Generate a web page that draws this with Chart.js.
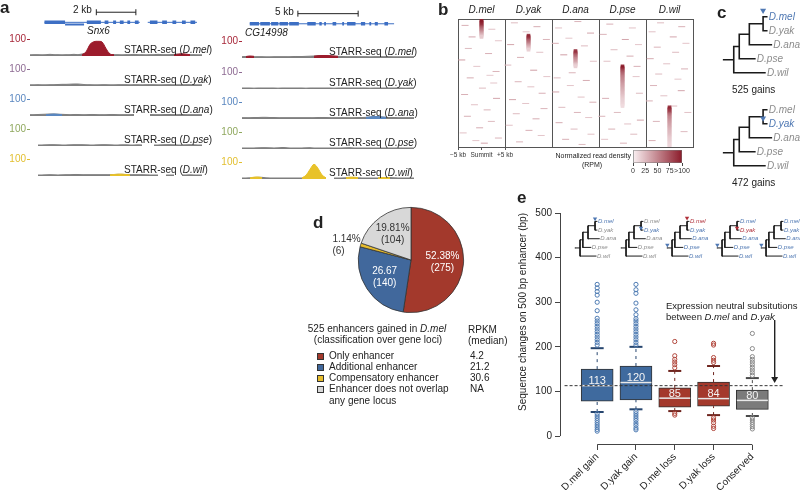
<!DOCTYPE html>
<html>
<head>
<meta charset="utf-8">
<script src="https://cdn.jsdelivr.net/npm/chart.js@4.4.1/dist/chart.umd.min.js"></script>
<style>
html, body { margin: 0; padding: 0; background: #fff; }
#fig { position: relative; width: 800px; height: 490px; overflow: hidden; background: #fff;
       font-family: 'Liberation Sans', Arial, sans-serif; color: #222; }
#fig canvas { position: absolute; }
.t { position: absolute; white-space: nowrap; line-height: 1; font-size: 10px; transform: translateY(-50%); }
.t.c { transform: translate(-50%, -50%); }
.t.r { transform: translate(-100%, -50%); }
.lt { position: absolute; font-weight: bold; font-size: 17px; line-height: 1; }
.sw { position: absolute; width: 7px; height: 7px; border: 1px solid #333; box-sizing: border-box; }
</style>
</head>
<body>
<div id="fig"></div>
<script>
// ---------- data ----------
const SPECIES = ['D.mel', 'D.yak', 'D.ana', 'D.pse', 'D.wil'];
const SPECIES_COLOR = ['#a8283a', '#8e6b93', '#5a87c0', '#8fa85e', '#e2bf2f'];
const PEAK_COLOR = ['#9c1c2c', '#8e6b93', '#5a87c0', '#8fa85e', '#e8c22a'];
const TRACK_GRAY = '#7f7f7f';
const GENE_BLUE = '#3d6fc4';

// panel a, locus 1 (Snx6), 44 bins
const SNX6_SIGNAL = [
  [7,8,8,7,8,10,8,8,7,8,8,10,8,12,14,16,16,16,14,12,10,8,8,7,8,8,10,8,8,7,8,8,10,8,8,8,10,11,11,10,8,8,7,7],
  [7,7,8,7,7,8,8,9,10,10,11,12,12,10,8,8,7,7,8,8,7,7,8,8,8,7,8,8,7,8,8,8,7,7,8,8,7,7,7,8,8,7,7,7],
  [8,8,9,10,11,12,12,11,10,9,8,9,9,8,8,9,9,8,8,8,9,9,8,8,8,8,9,null,null,null,9,8,8,8,9,9,8,8,9,8,8,8,8,8],
  [null,null,6,6,7,8,8,7,6,6,7,8,8,8,7,6,6,7,8,8,7,6,6,7,7,6,6,7,6,null,null,6,6,7,8,8,7,6,6,7,8,7,6,6],
  [null,null,6,6,7,8,7,6,7,8,8,9,9,8,8,8,8,8,8,8,8,9,10,10,9,8,8,8,8,7,6,6,6,null,6,6,6,null,6,6,7,6,6,6]
];
const SNX6_PEAKS = [
  [{ start: 13, values: [8,24,70,86,88,84,45,12,8] }, { start: 36, values: [8,11,13,11,8] }],
  [],
  [{ start: 4, values: [8,10,12,10,8] }],
  [],
  [{ start: 20, values: [7,9,11,11,9,7] }]
];
// panel a, locus 2 (CG14998), 44 bins
const CG14998_SIGNAL = [
  [8,9,9,8,8,8,7,7,8,8,8,8,8,9,9,9,10,11,12,13,13,12,12,11,10,9,8,8,8,8,8,8,7,8,8,8,8,8,7,7,7,7,7,7],
  [6,6,6,5,6,6,6,6,6,5,6,6,6,6,6,6,5,6,6,6,6,6,6,5,6,6,6,6,6,6,6,6,5,6,6,6,6,6,6,6,6,5,6,6],
  [8,8,8,9,9,10,10,9,9,8,8,8,8,8,8,8,8,8,8,9,9,9,8,8,8,8,8,8,8,9,9,10,12,14,14,12,10,9,9,8,8,8,8,8],
  [6,6,6,6,7,8,8,7,6,7,9,8,6,6,6,6,7,8,6,6,6,6,6,6,6,6,7,8,6,6,6,6,6,6,6,6,6,6,6,6,6,6,6,6],
  [6,6,7,9,10,10,7,6,6,6,6,6,6,6,6,6,7,9,9,9,7,6,null,6,6,6,7,9,9,7,6,6,6,6,6,7,9,9,7,6,6,6,6,6]
];
const CG14998_PEAKS = [
  [{ start: 1, values: [9,12,10] }, { start: 18, values: [11,14,15,15,14,12,10] }],
  [],
  [{ start: 31, values: [10,12,15,15,12,10] }],
  [],
  [{ start: 2, values: [7,11,12,8] }, { start: 15, values: [7,22,58,88,64,24,7] },
   { start: 26, values: [8,11,11,8] }, { start: 34, values: [7,9,9,7] }]
];
// gene models (kb from track start)
const SNX6_EXONS = [[0.48,1.52],[2.62,3.33],[3.52,3.71],[3.95,4.1],[4.29,4.48],[4.67,4.81],[5.05,5.24],
                    [5.81,6.19],[6.43,6.67],[6.95,7.14],[7.43,7.62],[7.86,8.1]];
const SNX6_INTRONS = [[0.48,5.3],[5.7,8.19]];
const SNX6_ALT = [[1.52,2.48]];
const CG14998_EXONS = [[0.23,1.0],[1.1,1.9],[2.0,2.6],[2.7,3.4],[3.5,4.3],[5.0,5.7],[6.0,6.2],[6.4,6.55],
                       [7.1,7.4],[7.9,8.05],[8.3,9.0],[9.45,9.8],[10.15,10.3],[10.6,10.85],[11.4,11.7]];
const CG14998_INTRONS = [[0.23,12.2]];
const SCALEBAR_KB = [[3.1, 5.1], [4.22, 9.22]];

// panel b heatmap
const HM_XTICKS = [0, 5, 10];
const HM_XTICK_LABELS = ['\u22125 kb', 'Summit', '+5 kb'];
const HM_STREAK_START = [1, 13, 25, 37, 69];
const HM_STREAK = [
  [95,100,100,95,90,80,70,62,55,48,40,32,25,18],
  [85,95,90,80,70,62,55,45,38,30,22,15],
  [80,90,85,75,65,58,50,45,40,35,28,20,15],
  [90,100,95,85,75,70,65,60,55,52,50,48,45,43,40,38,36,34,32,30,28,26,24,22,20,18,16,15,14,13,12,10],
  [85,95,90,85,80,70,60,55,50,48,45,42,40,38,36,34,32,30,28,26,25,24,22,20,18,17,16,15,14,13,12,12]
];
const HM_BG = [
  [[1.5,5,30],[7.2,8,22],[3,14,35],[8.6,17,20],[2.2,23,25],[6.5,27,30],[0.8,32,38],[4,37,20],[8.1,41,28],[2.6,46,32],
   [7.6,50,20],[5.2,54,25],[1.4,59,30],[8.2,62,35],[3.5,67,22],[6.2,71,28],[2,76,30],[7.1,80,25],[4.6,85,32],[1.1,89,22],
   [8.6,93,28],[5.6,97,35],[3.8,95,20],[6.8,44,18]],
  [[2,3,25],[6.8,6,32],[4.5,10,20],[8.8,16,28],[1.2,20,35],[7.4,26,22],[3.3,30,30],[0.6,36,25],[6.1,40,38],[8.9,45,20],
   [2.8,49,28],[5.5,53,22],[7.9,58,30],[1.6,63,35],[4.4,66,20],[8.3,70,28],[2.4,74,25],[6.6,78,32],[0.9,83,22],[5.1,87,30],
   [7.7,91,20],[3.1,96,28]],
  [[5.5,2,28],[1.4,7,22],[8.2,11,35],[3.6,15,20],[0.7,19,30],[6.9,21,25],[2.5,28,38],[8.8,33,22],[4.3,42,28],[1.1,46,25],
   [7.3,48,32],[3.9,52,20],[0.8,57,35],[6.2,61,22],[8.7,65,30],[2.1,69,25],[5.4,73,28],[7.8,77,20],[1.5,81,32],[4.7,86,25],
   [8.3,90,22],[2.9,94,30],[6.4,98,25]],
  [[2.3,4,30],[7.1,7,22],[0.9,12,28],[5.6,16,35],[8.4,20,20],[3.2,24,25],[6.6,29,32],[1.7,33,22],[8.1,37,30],[3.9,73,25],
   [0.6,76,28],[8.8,79,35],[6.1,82,22],[2.7,86,30],[7.4,90,25],[1.2,94,20],[5.2,97,28],[8.6,58,25],[1.4,62,30],[7.9,45,20]],
  [[3.1,3,25],[7.6,6,30],[1.3,10,22],[5.8,14,35],[8.5,19,20],[2.4,22,28],[6.3,26,25],[0.9,31,32],[4.4,35,22],[8.2,39,30],
   [2.7,43,25],[6.8,47,20],[1.6,52,28],[7.5,56,35],[3.8,60,22],[0.7,64,30],[5.9,68,25],[8.9,73,22],[2.2,80,28],[8.1,88,25],
   [1.3,95,30]]
];
const CB_TICKS = [0, 25, 50, 75, 100];
const CB_TICK_LABELS = ['0', '25', '50', '75', '>100'];

// panel c / e trees: ((((mel,yak),ana),pse),wil)
const TREE_TIP_X = [47, 47, 52, 34, 45];
const TREE_NODE_X = { stub: 0, root: 11, n3: 17, n2: 28, n1: 43 };
const C_GAINS = ['525 gains', '472 gains'];

// panel d pie
const PIE_CLASSES = ['Only enhancer', 'Additional enhancer', 'Compensatory enhancer', 'Enhancer does not overlap any gene locus'];
const PIE_COUNTS = [275, 140, 6, 104];
const PIE_PCT = ['52.38%', '26.67', '1.14%', '19.81%'];
const PIE_COLORS = ['#a3392c', '#41689c', '#e7bd2c', '#d8d8d8'];
const RPKM_MEDIAN = ['4.2', '21.2', '30.6', 'NA'];

// panel e box plot
const BOX_LABELS = ['D.mel gain', 'D.yak gain', 'D.mel loss', 'D.yak loss', 'Conserved'];
const BOX_GROUP = ['gain', 'gain', 'loss', 'loss', 'cons'];
const BOX_Q1 = [78, 81, 65, 67, 60];
const BOX_Q3 = [150, 157, 108, 121, 103];
const BOX_MEDIAN = [113, 120, 85, 84, 80];
const BOX_WHISK_LO = [54, 60, 56, 47, 45];
const BOX_WHISK_HI = [197, 200, 146, 157, 130];
const BOX_OUTLIERS = [
  [204,210,216,222,228,234,240,246,252,258,264,281,300,316,324,332,340, 50,45,40,35,30,25,20,15,11],
  [204,210,216,222,228,234,240,246,252,258,263,272,283,298,320,328,340, 55,50,45,40,35,29,24,18,14],
  [153,160,166,172,180,212, 51,47],
  [165,170,176,204,208, 41,36,30,22,17],
  [136,142,148,154,160,166,172,178,196,230, 41,36,31,26,21,16]
];
const Y_TICKS = [0, 100, 200, 300, 400, 500];
const NEUTRAL_LINE = 113;
const ARROW = { x: 4.575, from: 260, to: 128 };

const BOX_FILL = { gain: '#3f6a9e', loss: '#a4392c', cons: '#7b7b7b' };
const OUT_COLOR = { gain: '#4c7ab2', loss: '#b0453a', cons: '#8a8a8a' };
const CAP_COLOR = { gain: '#27466f', loss: '#6e241d', cons: '#4a4a4a' };
const GRAY = '#8c8c8c', BLUE = '#4f78b3', RED = '#b0303a';

// ---------- helpers ----------
Chart.defaults.font.family = "'Liberation Sans', Arial, sans-serif";
Chart.defaults.color = '#222';
Chart.defaults.animation = false;
Chart.defaults.responsive = false;
Chart.defaults.maintainAspectRatio = false;
Chart.defaults.events = [];
Chart.defaults.plugins.legend.display = false;
Chart.defaults.plugins.tooltip.enabled = false;

const fig = document.getElementById('fig');

function addCanvas(left, top, w, h) {
  const c = document.createElement('canvas');
  c.width = w; c.height = h;
  c.style.left = left + 'px'; c.style.top = top + 'px';
  c.style.width = w + 'px'; c.style.height = h + 'px';
  fig.appendChild(c);
  return c;
}

function addText(html, x, y, cls, style) {
  const d = document.createElement('div');
  d.className = 't' + (cls ? ' ' + cls : '');
  d.innerHTML = html;
  d.style.left = x + 'px'; d.style.top = y + 'px';
  if (style) Object.assign(d.style, style);
  fig.appendChild(d);
  return d;
}

function addLetter(ch, x, top) {
  const d = document.createElement('div');
  d.className = 'lt';
  d.textContent = ch;
  d.style.left = x + 'px'; d.style.top = top + 'px';
  fig.appendChild(d);
}

function segments(ranges, y) {
  return ranges.flatMap(([a, b]) => [{ x: a, y }, { x: b, y }, { x: null, y: null }]);
}

function heatColor(v) {
  const t = Math.max(0, Math.min(100, v || 0)) / 100;
  const r = Math.round(250 - 111 * t), g = Math.round(240 - 213 * t), b = Math.round(242 - 200 * t);
  return `rgb(${r},${g},${b})`;
}

// ---------- panel a ----------
const LOCI = [
  { left: 30, width: 172, axisW: 20, binKb: 4 / 21, baselines: [61, 91, 121, 151, 181],
    signal: SNX6_SIGNAL, peaks: SNX6_PEAKS, exons: SNX6_EXONS, introns: SNX6_INTRONS, alt: SNX6_ALT,
    geneY: 24, barY: 10, bar: SCALEBAR_KB[0], labelX: 124 },
  { left: 242, width: 172, axisW: 20, binKb: 4 / 12.8, baselines: [63, 94, 124, 154, 184],
    signal: CG14998_SIGNAL, peaks: CG14998_PEAKS, exons: CG14998_EXONS, introns: CG14998_INTRONS, alt: [],
    geneY: 26, barY: 12, bar: SCALEBAR_KB[1], labelX: 329 }
];

function drawTrack(locus, row) {
  const base = locus.baselines[row];
  const signal = locus.signal[row];
  const cv = addCanvas(locus.left - locus.axisW, base - 36, locus.axisW + locus.width, 38);
  const pts = (vals, start) => vals.map((v, k) => ({ x: (start + k) * locus.binKb, y: v }));
  const datasets = locus.peaks[row].map(p => ({
    data: pts(p.values, p.start), borderColor: PEAK_COLOR[row], backgroundColor: PEAK_COLOR[row],
    fill: 'origin', borderWidth: 1, pointRadius: 0, tension: 0.35
  }));
  datasets.push({
    data: pts(signal, 0), borderColor: TRACK_GRAY, backgroundColor: TRACK_GRAY,
    fill: 'origin', borderWidth: 1, pointRadius: 0, tension: 0.3, spanGaps: false
  });
  new Chart(cv, {
    type: 'line',
    data: { datasets },
    options: {
      layout: { padding: { bottom: 2 } },
      scales: {
        x: { type: 'linear', display: false, min: 0, max: (signal.length - 1) * locus.binKb },
        y: {
          min: 0, max: 144,
          afterBuildTicks: s => { s.ticks = [{ value: 100 }]; },
          afterFit: s => { s.width = locus.axisW; },
          ticks: { color: SPECIES_COLOR[row], font: { size: 10 }, padding: 1 },
          grid: { drawOnChartArea: false, tickLength: 3, tickColor: SPECIES_COLOR[row] },
          border: { display: false }
        }
      }
    }
  });
  addText(`STARR-seq (<i>${SPECIES[row]}</i>)`, locus.labelX, base - 11);
}

function drawGene(locus) {
  const span = (locus.signal[0].length - 1) * locus.binKb;
  const cv = addCanvas(locus.left, 0, locus.width, 36);
  new Chart(cv, {
    type: 'scatter',
    data: { datasets: [
      { data: segments(locus.exons, locus.geneY), showLine: true, borderColor: GENE_BLUE, borderWidth: 3.5, pointRadius: 0 },
      { data: segments(locus.alt, locus.geneY + 3), showLine: true, borderColor: GENE_BLUE, borderWidth: 2, pointRadius: 0 },
      { data: segments(locus.introns, locus.geneY), showLine: true, borderColor: GENE_BLUE, borderWidth: 1, pointRadius: 0 },
      { data: segments([locus.bar], locus.barY), showLine: true, borderColor: '#222', borderWidth: 1,
        pointRadius: [3, 3, 0], pointStyle: 'line', rotation: 90, pointBorderColor: '#222', pointBorderWidth: 1 }
    ] },
    options: { scales: {
      x: { type: 'linear', display: false, min: 0, max: span },
      y: { display: false, min: 0, max: 36, reverse: true }
    } }
  });
}

LOCI.forEach(l => { drawGene(l); l.baselines.forEach((b, r) => drawTrack(l, r)); });
addText('2 kb', 73, 10);
addText('5 kb', 275, 12);
addText('<i>Snx6</i>', 87, 31);
addText('<i>CG14998</i>', 245, 33);

// ---------- panel b ----------
const hmStreakPts = HM_STREAK.flatMap((vals, s) => vals.map((v, k) => ({ x: 10 * s + 5, y: HM_STREAK_START[s] + k, v })));
const hmBgPts = HM_BG.flatMap((list, s) => list.map(([x, y, v]) => ({ x: 10 * s + x, y, v })));

new Chart(addCanvas(440, 0, 260, 165), {
  type: 'scatter',
  data: { datasets: [
    { data: hmStreakPts, pointStyle: 'rect', pointRadius: 2.6, borderWidth: 0,
      backgroundColor: c => heatColor(c.raw && c.raw.v) },
    { data: hmBgPts, pointStyle: 'line', pointRadius: 3.5, borderWidth: 1,
      borderColor: c => heatColor(c.raw && c.raw.v) }
  ] },
  options: {
    layout: { padding: { left: 18, right: 7 } },
    scales: {
      x: {
        type: 'linear', min: 0, max: 50, offset: false,
        afterBuildTicks: s => { s.ticks = HM_XTICKS.map(v => ({ value: v })); },
        afterFit: s => { s.height = 18; },
        ticks: { callback: (v, i) => HM_XTICK_LABELS[i], font: { size: 6.5 }, padding: 1, maxRotation: 0, autoSkip: false, color: '#333' },
        grid: { drawOnChartArea: false, tickLength: 3, color: '#555' },
        border: { color: '#555' }
      },
      xTop: {
        type: 'category', labels: SPECIES, position: 'top', offset: true,
        afterFit: s => { s.height = 19; },
        ticks: { font: { size: 10, style: 'italic' }, padding: 3 },
        grid: { offset: true, drawTicks: false, color: '#555' },
        border: { color: '#555' }
      },
      y: { display: false, min: 0, max: 100, reverse: true }
    }
  }
});

new Chart(addCanvas(625, 145, 70, 32), {
  type: 'bar',
  data: { labels: [''], datasets: [{
    data: [[0, 100]], borderColor: '#777', borderWidth: 0.8, borderSkipped: false,
    barPercentage: 1, categoryPercentage: 1,
    backgroundColor: c => {
      const area = c.chart.chartArea;
      if (!area) return heatColor(50);
      const g = c.chart.ctx.createLinearGradient(area.left, 0, area.right, 0);
      g.addColorStop(0, heatColor(0)); g.addColorStop(1, heatColor(100));
      return g;
    }
  }] },
  options: {
    indexAxis: 'y',
    layout: { padding: { left: 8, right: 13, top: 5 } },
    scales: {
      x: {
        min: 0, max: 100,
        afterBuildTicks: s => { s.ticks = CB_TICKS.map(v => ({ value: v })); },
        afterFit: s => { s.height = 14; },
        ticks: { callback: (v, i) => CB_TICK_LABELS[i], font: { size: 7 }, padding: 1, maxRotation: 0, autoSkip: false, color: '#333' },
        grid: { drawOnChartArea: false, tickLength: 3, color: '#444' },
        border: { display: false }
      },
      y: { display: false }
    }
  }
});
addText('Normalized read density', 631, 155, 'r', { fontSize: '7px' });
addText('(RPM)', 592, 164, 'c', { fontSize: '7px' });

// ---------- trees (panels c, e) ----------
function treeGeometry() {
  const yN1 = 0.5, yN2 = (yN1 + 2) / 2, yN3 = (yN2 + 3) / 2, yR = (yN3 + 4) / 2;
  const X = TREE_NODE_X, T = TREE_TIP_X;
  const segs = [
    [X.stub, yR, X.root, yR],
    [X.root, yN3, X.root, 4], [X.root, 4, T[4], 4],
    [X.root, yN3, X.n3, yN3], [X.n3, yN2, X.n3, 3], [X.n3, 3, T[3], 3],
    [X.n3, yN2, X.n2, yN2], [X.n2, yN1, X.n2, 2], [X.n2, 2, T[2], 2],
    [X.n2, yN1, X.n1, yN1], [X.n1, 0, X.n1, 1], [X.n1, 0, T[0], 0], [X.n1, 1, T[1], 1]
  ];
  return { yR, pts: segs.flatMap(([x1, y1, x2, y2]) => [{ x: x1, y: y1 }, { x: x2, y: y2 }, { x: null, y: null }]) };
}

function drawTree(stubX, row0Y, opt) {
  const xMin = -4, xMax = 92, yMin = -1.2, yMax = 4.8;
  const geo = treeGeometry();
  const w = Math.round((xMax - xMin) * opt.unit), h = Math.round((yMax - yMin) * opt.row);
  const marks = opt.markers.map(m => ({ x: TREE_NODE_X[m.at] + (m.at === 'stub' ? 1 : 0), y: m.at === 'stub' ? geo.yR + m.dy : m.dy }));
  const labels = {
    id: 'leafLabels',
    afterDatasetsDraw(chart) {
      const { ctx, scales: { x, y } } = chart;
      ctx.save();
      ctx.font = `italic ${opt.font}px 'Liberation Sans', Arial, sans-serif`;
      ctx.textBaseline = 'middle';
      SPECIES.forEach((s, i) => {
        ctx.fillStyle = opt.colors[i];
        ctx.fillText(s, x.getPixelForValue(TREE_TIP_X[i]) + opt.gap, y.getPixelForValue(i));
      });
      ctx.restore();
    }
  };
  new Chart(addCanvas(Math.round(stubX + xMin * opt.unit), Math.round(row0Y + yMin * opt.row), w, h), {
    type: 'scatter',
    data: { datasets: [
      { data: marks, pointStyle: 'triangle', rotation: 180, pointRadius: opt.markR, borderWidth: 0,
        backgroundColor: opt.markers.map(m => m.color) },
      { data: geo.pts, showLine: true, pointRadius: 0, borderColor: '#1a1a1a', borderWidth: opt.lw, borderCapStyle: 'square' }
    ] },
    options: { scales: {
      x: { type: 'linear', display: false, min: xMin, max: xMax },
      y: { type: 'linear', display: false, min: yMin, max: yMax, reverse: true }
    } },
    plugins: [labels]
  });
}

const C_TREE = { unit: 1, row: 15.25, font: 10, lw: 1.6, gap: 2, markR: 3.5 };
drawTree(720, 14, Object.assign({}, C_TREE, { colors: [BLUE, GRAY, GRAY, GRAY, GRAY], markers: [{ at: 'n1', dy: -0.45, color: BLUE }] }));
drawTree(720, 107, Object.assign({}, C_TREE, { colors: [GRAY, BLUE, GRAY, GRAY, GRAY], markers: [{ at: 'n1', dy: 0.6, color: BLUE }] }));
addText(C_GAINS[0], 732, 90);
addText(C_GAINS[1], 732, 183);

// ---------- panel d ----------
const pieLabels = {
  id: 'pieLabels',
  afterDatasetsDraw(chart) {
    const ctx = chart.ctx;
    ctx.save();
    ctx.font = "10px 'Liberation Sans', Arial, sans-serif";
    ctx.textBaseline = 'middle';
    chart.getDatasetMeta(0).data.forEach((arc, i) => {
      const { x, y, startAngle, endAngle, outerRadius } = arc.getProps(['x', 'y', 'startAngle', 'endAngle', 'outerRadius']);
      const mid = (startAngle + endAngle) / 2;
      if (PIE_COUNTS[i] < 20) {
        ctx.fillStyle = '#333'; ctx.textAlign = 'left';
        const ty = y + Math.sin(mid) * outerRadius;
        const tx = x - outerRadius - 26;
        ctx.fillText(PIE_PCT[i], tx, ty - 6);
        ctx.fillText(`(${PIE_COUNTS[i]})`, tx, ty + 6);
        return;
      }
      const r = outerRadius * 0.6;
      const cx = x + Math.cos(mid) * r, cy = y + Math.sin(mid) * r;
      ctx.fillStyle = i < 2 ? '#fff' : '#333';
      ctx.textAlign = 'center';
      ctx.fillText(PIE_PCT[i], cx, cy - 6);
      ctx.fillText(`(${PIE_COUNTS[i]})`, cx, cy + 6);
    });
    ctx.restore();
  }
};
new Chart(addCanvas(325, 200, 172, 120), {
  type: 'pie',
  data: { labels: PIE_CLASSES, datasets: [{ data: PIE_COUNTS, backgroundColor: PIE_COLORS, borderColor: '#333', borderWidth: 0.8 }] },
  options: { layout: { padding: { left: 33, right: 33, top: 7, bottom: 7 } } },
  plugins: [pieLabels]
});
addText('525 enhancers gained in <i>D.mel</i>', 377, 329, 'c');
addText('(classification over gene loci)', 378, 340, 'c');
addText('RPKM', 468, 330);
addText('(median)', 468, 341);
const LEGEND_Y = [356, 367, 378, 389];
PIE_CLASSES.forEach((name, i) => {
  const sw = document.createElement('div');
  sw.className = 'sw';
  sw.style.left = '317px'; sw.style.top = (LEGEND_Y[i] - 3.5) + 'px';
  sw.style.background = PIE_COLORS[i];
  fig.appendChild(sw);
  if (i === 3) {
    addText('Enhancer does not overlap', 329, LEGEND_Y[i]);
    addText('any gene locus', 329, LEGEND_Y[i] + 12);
  } else {
    addText(name, 329, LEGEND_Y[i]);
  }
  addText(RPKM_MEDIAN[i], 470, LEGEND_Y[i]);
});

// ---------- panel e ----------
const rangeFrame = {
  id: 'rangeFrame',
  beforeDatasetsDraw(chart) {
    const { ctx, chartArea, scales: { x, y } } = chart;
    ctx.save();
    ctx.strokeStyle = '#444'; ctx.lineWidth = 1;
    ctx.beginPath();
    const lx = Math.round(chartArea.left) + 0.5;
    ctx.moveTo(lx, y.getPixelForValue(Y_TICKS[0]));
    ctx.lineTo(lx, y.getPixelForValue(Y_TICKS[Y_TICKS.length - 1]));
    const by = Math.round(chartArea.bottom) - 0.5;
    ctx.moveTo(x.getPixelForValue(0), by);
    ctx.lineTo(x.getPixelForValue(BOX_LABELS.length - 1), by);
    ctx.stroke();
    ctx.restore();
  }
};
const medianLabels = {
  id: 'medianLabels',
  afterDatasetsDraw(chart) {
    const { ctx, scales: { x, y } } = chart;
    ctx.save();
    ctx.font = "11px 'Liberation Sans', Arial, sans-serif";
    ctx.fillStyle = '#f4f4f4'; ctx.textAlign = 'center'; ctx.textBaseline = 'alphabetic';
    BOX_MEDIAN.forEach((m, i) => ctx.fillText(String(m), x.getPixelForValue(i), y.getPixelForValue(m) - 1.5));
    ctx.restore();
  }
};

const eDatasets = [
  { type: 'line', data: [{ x: -0.84, y: NEUTRAL_LINE }, { x: 4.79, y: NEUTRAL_LINE }], borderColor: '#333',
    borderWidth: 1, borderDash: [3, 2], pointRadius: 0, order: 0 },
  { type: 'line', data: [{ x: ARROW.x, y: ARROW.from }, { x: ARROW.x, y: ARROW.to }], borderColor: '#222', borderWidth: 1,
    pointRadius: [0, 4], pointStyle: 'triangle', rotation: 180, pointBackgroundColor: '#222', pointBorderWidth: 0, order: 0 }
];
BOX_OUTLIERS.forEach((list, i) => eDatasets.push({
  type: 'scatter', data: list.map(v => ({ x: i, y: v })), pointRadius: 2.1, pointBorderWidth: 1,
  pointBorderColor: OUT_COLOR[BOX_GROUP[i]], pointBackgroundColor: 'rgba(255,255,255,0)', order: 1
}));
eDatasets.push({
  type: 'scatter',
  data: BOX_LABELS.flatMap((l, i) => [{ x: i, y: BOX_WHISK_LO[i] }, { x: i, y: BOX_WHISK_HI[i] }]),
  pointStyle: 'line', pointRadius: 6.5, pointBorderWidth: 2,
  pointBorderColor: BOX_LABELS.flatMap((l, i) => [CAP_COLOR[BOX_GROUP[i]], CAP_COLOR[BOX_GROUP[i]]]), order: 2
});
eDatasets.push({
  type: 'scatter', data: BOX_MEDIAN.map((m, i) => ({ x: i, y: m })),
  pointStyle: 'line', pointRadius: 15.5, pointBorderWidth: 1.5, pointBorderColor: '#e8e8e8', order: 2
});
BOX_LABELS.forEach((l, i) => eDatasets.push({
  type: 'line', data: segments([[BOX_Q3[i], BOX_WHISK_HI[i]], [BOX_WHISK_LO[i], BOX_Q1[i]]], 0).map(p => ({ x: p.x === null ? null : i, y: p.x })),
  borderColor: CAP_COLOR[BOX_GROUP[i]], borderWidth: 1, borderDash: [3, 4], pointRadius: 0, order: 4
}));
eDatasets.push({
  type: 'bar', data: BOX_Q1.map((q, i) => ({ x: i, y: [q, BOX_Q3[i]] })),
  backgroundColor: BOX_GROUP.map(g => BOX_FILL[g]), borderColor: '#333', borderWidth: 1, borderSkipped: false,
  barThickness: 32, order: 5
});

new Chart(addCanvas(515, 180, 285, 310), {
  type: 'bar',
  data: { datasets: eDatasets },
  options: {
    layout: { padding: { top: 33 } },
    scales: {
      x: {
        type: 'linear', min: -0.958, max: 4.79, offset: false,
        afterBuildTicks: s => { s.ticks = BOX_LABELS.map((l, i) => ({ value: i })); },
        afterFit: s => { s.height = 45; },
        ticks: { callback: (v, i) => BOX_LABELS[i], font: { size: 10 }, minRotation: 45, maxRotation: 45, autoSkip: false, padding: 1, color: '#222' },
        grid: { drawOnChartArea: false, tickLength: 5, color: '#444', offset: false },
        border: { display: false }
      },
      y: {
        min: -20, max: 500,
        afterBuildTicks: s => { s.ticks = Y_TICKS.map(v => ({ value: v })); },
        afterFit: s => { s.width = 45; },
        ticks: { font: { size: 10 }, padding: 3, color: '#222' },
        grid: { drawOnChartArea: false, tickLength: 5, color: '#444' },
        border: { display: false },
        title: { display: true, align: 'end', text: 'Sequence changes on 500 bp enhancer (bp)', font: { size: 10 }, padding: { top: 2, bottom: 0 }, color: '#222' }
      }
    }
  },
  plugins: [rangeFrame, medianLabels]
});
addText('Expression neutral subsitutions', 666, 306, '', { fontSize: '9.5px' });
addText('between <i>D.mel</i> and <i>D.yak</i>', 666, 317, '', { fontSize: '9.5px' });

// mini trees over panel e
const E_TREE = { unit: 0.55, row: 10, font: 6, lw: 1, gap: 1, markR: 2.5 };
const E_TREE_X = [571, 617, 663, 713, 757];
const E_TREE_COLORS = [
  [BLUE, GRAY, GRAY, GRAY, GRAY],
  [GRAY, BLUE, GRAY, GRAY, GRAY],
  [RED, BLUE, BLUE, BLUE, BLUE],
  [BLUE, RED, BLUE, BLUE, BLUE],
  [BLUE, BLUE, BLUE, BLUE, BLUE]
];
const E_TREE_MARKS = [
  [{ at: 'n1', dy: -0.3, color: BLUE }],
  [{ at: 'n1', dy: 0.75, color: BLUE }],
  [{ at: 'n1', dy: -0.4, color: RED }, { at: 'stub', dy: -0.35, color: BLUE }],
  [{ at: 'n1', dy: 0.75, color: RED }, { at: 'stub', dy: -0.35, color: BLUE }],
  [{ at: 'stub', dy: -0.35, color: BLUE }]
];
E_TREE_X.forEach((x0, k) => drawTree(x0, 219, Object.assign({}, E_TREE, { colors: E_TREE_COLORS[k], markers: E_TREE_MARKS[k] })));

// panel letters
addLetter('a', 0, -1);
addLetter('b', 438, 1);
addLetter('c', 717, 4);
addLetter('d', 313, 214);
addLetter('e', 517, 189);
</script>
</body>
</html>
